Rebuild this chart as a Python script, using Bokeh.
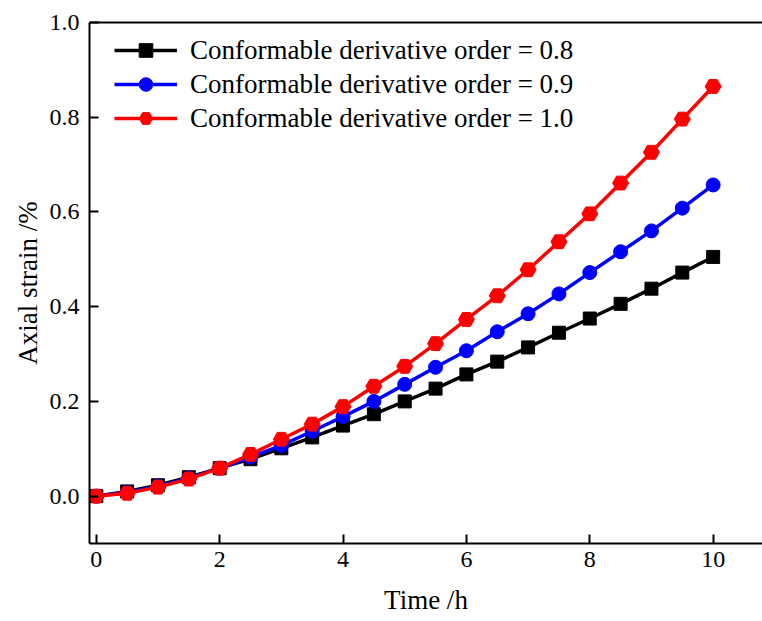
from bokeh.plotting import figure
from bokeh.models import Range1d, LinearAxis, Legend, LegendItem, FixedTicker, CustomJSTickFormatter
from bokeh.embed import file_html
from bokeh.resources import INLINE

time_h = [0, 0.5, 1, 1.5, 2, 2.5, 3, 3.5, 4, 4.5, 5, 5.5, 6, 6.5, 7, 7.5, 8, 8.5, 9, 9.5, 10]
strain_08 = [0.0, 0.010, 0.023, 0.040, 0.059, 0.078, 0.101, 0.124, 0.149, 0.173, 0.200, 0.227,
             0.257, 0.284, 0.314, 0.345, 0.375, 0.406, 0.438, 0.472, 0.505]
strain_09 = [0.0, 0.008, 0.021, 0.038, 0.059, 0.082, 0.107, 0.137, 0.168, 0.200, 0.236, 0.272,
             0.307, 0.347, 0.385, 0.427, 0.472, 0.516, 0.560, 0.608, 0.657]
strain_10 = [0.0, 0.006, 0.019, 0.036, 0.059, 0.088, 0.120, 0.152, 0.189, 0.232, 0.274, 0.322,
             0.373, 0.423, 0.478, 0.537, 0.596, 0.661, 0.726, 0.796, 0.865]
labels = ["Conformable derivative order = 0.8",
          "Conformable derivative order = 0.9",
          "Conformable derivative order = 1.0"]
x_ticks = [0, 2, 4, 6, 8, 10]
y_ticks = [0.0, 0.2, 0.4, 0.6, 0.8, 1.0]

FONT = "Liberation Serif"

p = figure(width=762, height=621, output_backend="svg", toolbar_location=None,
           x_range=Range1d(-0.11, 10.8), y_range=Range1d(-0.1, 1.0),
           min_border_left=89, min_border_right=0, min_border_top=22, min_border_bottom=78)
p.xgrid.visible = False
p.ygrid.visible = False
p.outline_line_color = None
p.background_fill_color = "white"

for ax in (p.xaxis[0], p.yaxis[0]):
    ax.axis_line_width = 2
    ax.axis_line_color = "black"
    ax.major_tick_in = 9
    ax.major_tick_out = 0
    ax.major_tick_line_width = 2
    ax.minor_tick_line_color = None
    ax.major_label_text_font = FONT
    ax.major_label_text_font_size = "24px"
    ax.major_label_text_color = "black"
    ax.axis_label_text_font = FONT
    ax.axis_label_text_font_size = "27px"
    ax.axis_label_text_font_style = "normal"
    ax.axis_label_text_color = "black"
    ax.major_label_standoff = 10

p.xaxis.major_label_standoff = 8
p.xaxis.ticker = FixedTicker(ticks=x_ticks)
p.yaxis.ticker = FixedTicker(ticks=y_ticks)
p.yaxis.formatter = CustomJSTickFormatter(code="return tick.toFixed(1);")
p.xaxis.axis_label = "Time /h"
p.yaxis.axis_label = "Axial strain /%"
p.xaxis.axis_label_standoff = 15
p.yaxis.axis_label_standoff = 4

top = LinearAxis(major_tick_line_color=None, minor_tick_line_color=None,
                 major_label_text_font_size="0px", axis_line_width=2)
top.major_label_text_alpha = 0
p.add_layout(top, "above")

r1l = p.line(time_h, strain_08, line_color="black", line_width=3.5)
r1s = p.scatter(time_h, strain_08, marker="square", size=13, fill_color="black", line_color="black")
r2l = p.line(time_h, strain_09, line_color="#0000ff", line_width=3.5)
r2s = p.scatter(time_h, strain_09, marker="circle", size=14, fill_color="#0000ff", line_color="#0000ff")
r3l = p.line(time_h, strain_10, line_color="#ff0000", line_width=3.5)
r3s = p.scatter(time_h, strain_10, marker="hex", size=16, fill_color="#ff0000", line_color="#ff0000")

legend = Legend(items=[LegendItem(label=labels[0], renderers=[r1l, r1s]),
                       LegendItem(label=labels[1], renderers=[r2l, r2s]),
                       LegendItem(label=labels[2], renderers=[r3l, r3s])],
                location=(25, 408), border_line_color=None, background_fill_alpha=0,
                padding=0, margin=0, spacing=0, glyph_width=63, glyph_height=34,
                label_height=34, label_standoff=13, label_text_font=FONT,
                label_text_font_size="27px", label_text_color="black")
p.add_layout(legend, "center")

open("out.html", "w").write(file_html(p, INLINE))
